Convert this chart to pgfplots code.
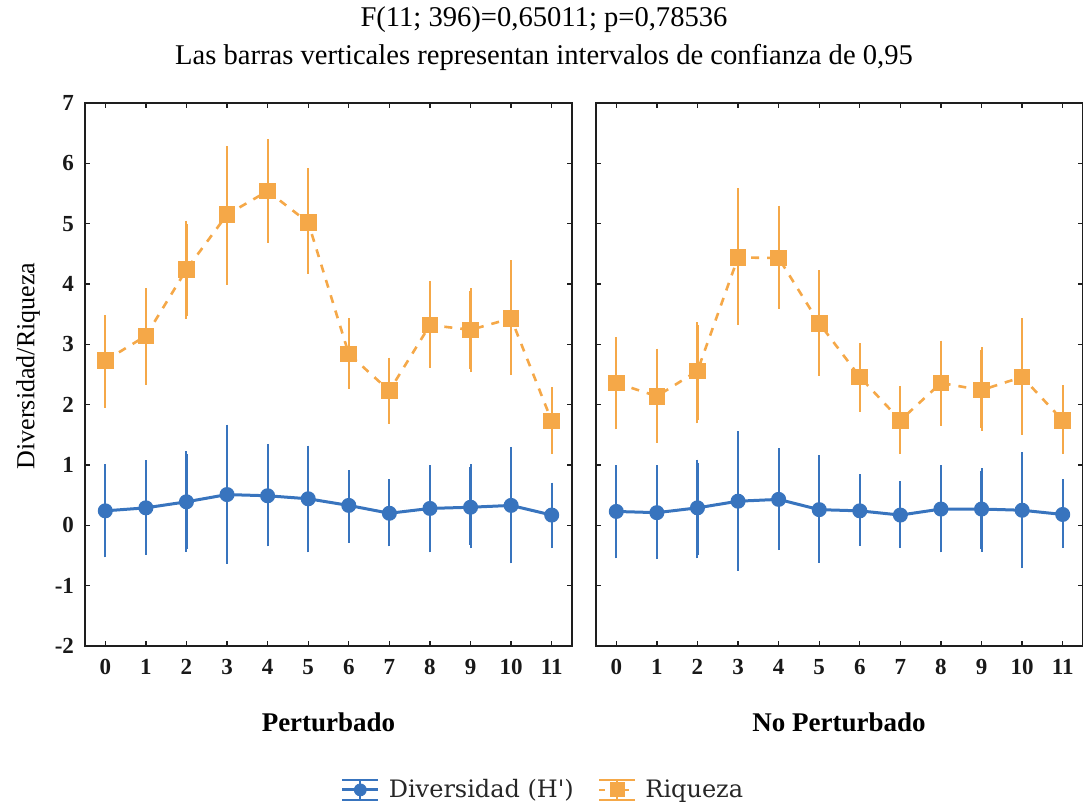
\documentclass[border=0pt]{standalone}
\usepackage{pgfplots}
\pgfplotsset{compat=1.18}
\usepackage{pgfplotstable}
\usepackage{fontspec}
\setmainfont{Liberation Serif}
\newfontfamily\legfont{DejaVu Serif}
\definecolor{cblue}{RGB}{56,116,190}
\definecolor{corange}{RGB}{245,168,72}
\definecolor{frame}{RGB}{30,30,30}

\pgfplotstableread{
x y ep em
0 2.73 0.70 0.73
1 3.14 0.74 0.76
2 4.24 0.76 0.77
3 5.15 1.08 1.11
4 5.54 0.81 0.81
5 5.02 0.85 0.80
6 2.84 0.54 0.53
7 2.23 0.50 0.50
8 3.32 0.68 0.66
9 3.24 0.64 0.65
10 3.43 0.91 0.89
11 1.73 0.51 0.50
}\riqL
\pgfplotstableread{
x y ep em
0 0.24 0.72 0.72
1 0.29 0.74 0.73
2 0.39 0.79 0.78
3 0.51 1.11 1.10
4 0.49 0.81 0.79
5 0.44 0.83 0.84
6 0.33 0.53 0.57
7 0.20 0.51 0.50
8 0.28 0.67 0.68
9 0.30 0.66 0.63
10 0.33 0.92 0.91
11 0.17 0.49 0.50
}\divL
\pgfplotstableread{
x y ep em
0 2.36 0.71 0.72
1 2.14 0.74 0.72
2 2.56 0.76 0.82
3 4.44 1.10 1.07
4 4.43 0.82 0.79
5 3.35 0.83 0.82
6 2.46 0.51 0.53
7 1.74 0.52 0.51
8 2.36 0.65 0.66
9 2.24 0.66 0.62
10 2.46 0.92 0.91
11 1.74 0.53 0.51
}\riqR
\pgfplotstableread{
x y ep em
0 0.23 0.72 0.73
1 0.21 0.74 0.72
2 0.29 0.75 0.79
3 0.40 1.11 1.10
4 0.43 0.80 0.79
5 0.26 0.85 0.83
6 0.24 0.56 0.53
7 0.17 0.51 0.49
8 0.27 0.68 0.67
9 0.27 0.63 0.66
10 0.25 0.91 0.91
11 0.18 0.53 0.51
}\divR

\pgfplotsset{
  panel/.style={
    width=243.5pt, height=271.5pt, scale only axis,
    xmin=-0.5, xmax=11.5, ymin=-2, ymax=7,
    xtick={0,1,2,3,4,5,6,7,8,9,10,11},
    xticklabels={0,1,2,3,4,5,6,7,8,9,10,11},
    ytick={-2,-1,0,1,2,3,4,5,6,7},
    tick align=inside, major tick length=2.5pt,
    axis line style={frame, line width=1pt},
    tick style={frame, line width=0.7pt},
    xticklabel style={font=\fontsize{11.5}{12}\selectfont\bfseries, text=black!90, yshift=-3pt},
    yticklabel style={font=\fontsize{11.5}{12}\selectfont\bfseries, text=black!90, xshift=-2pt},
  },
  riq/.style={corange, line width=1.3pt, dash pattern=on 4pt off 4pt,
    mark=square*, mark size=3.5pt, mark options={solid},
    error bars/y dir=both, error bars/y explicit,
    error bars/error bar style={corange, line width=1.1pt, solid},
    error bars/error mark options={corange, line width=1pt, mark size=1.5pt, solid}},
  dive/.style={cblue, line width=1.5pt, solid,
    mark=*, mark size=3pt,
    error bars/y dir=both, error bars/y explicit,
    error bars/error bar style={cblue, line width=1.1pt},
    error bars/error mark options={cblue, line width=1pt, mark size=1.5pt}},
}

\begin{document}
\begin{tikzpicture}[x=1pt,y=1pt]
\begin{axis}[panel,
  yticklabels={-2,-1,0,1,2,3,4,5,6,7},
  legend style={at={(0.9425,-0.265)}, anchor=center, draw=none, fill=none,
    legend columns=2, font=\legfont\fontsize{12}{14}\selectfont, text=black!85,
    /tikz/every odd column/.append style={column sep=2.5pt},
    /tikz/every even column/.append style={column sep=10pt}},
  legend cell align=left]
\addplot[forget plot, riq] table[x=x, y=y, y error plus=ep, y error minus=em] {\riqL};
\addplot[forget plot, dive] table[x=x, y=y, y error plus=ep, y error minus=em] {\divL};
\addlegendimage{legend image code/.code={
  \draw[cblue,line width=1pt] (0pt,5pt)--(18pt,5pt) (0pt,-5pt)--(18pt,-5pt) (9pt,-5pt)--(9pt,5pt);
  \draw[cblue,line width=1.5pt] (0pt,0pt)--(18pt,0pt);
  \fill[cblue] (9pt,0pt) circle (3pt);}}
\addlegendentry{Diversidad (H')}
\addlegendimage{legend image code/.code={
  \draw[corange,line width=1pt] (0pt,5pt)--(18pt,5pt) (0pt,-5pt)--(18pt,-5pt) (9pt,-5pt)--(9pt,5pt);
  \draw[corange,line width=1.3pt,dash pattern=on 3pt off 3pt] (0pt,0pt)--(18pt,0pt);
  \fill[corange] (5.5pt,-3.5pt) rectangle (12.5pt,3.5pt);}}
\addlegendentry{Riqueza}
\end{axis}
\begin{axis}[panel, at={(255.5pt,0pt)}, yticklabels={}]
\addplot[riq] table[x=x, y=y, y error plus=ep, y error minus=em] {\riqR};
\addplot[dive] table[x=x, y=y, y error plus=ep, y error minus=em] {\divR};
\end{axis}
\node[font=\fontsize{14.3}{16}\selectfont] at (229.5pt,313pt) {F(11; 396)=0,65011; p=0,78536};
\node[font=\fontsize{14.3}{16}\selectfont] at (229.5pt,294.5pt) {Las barras verticales representan intervalos de confianza de 0,95};
\node[font=\fontsize{13}{15}\selectfont, rotate=90] at (-28.5pt,140pt) {Diversidad/Riqueza};
\node[font=\fontsize{13.5}{15}\selectfont\bfseries] at (121.75pt,-38pt) {Perturbado};
\node[font=\fontsize{13.5}{15}\selectfont\bfseries] at (377pt,-38pt) {No Perturbado};
\pgfresetboundingbox
\path (-42.5pt,-81.5pt) rectangle (499pt,323pt);
\end{tikzpicture}
\end{document}
